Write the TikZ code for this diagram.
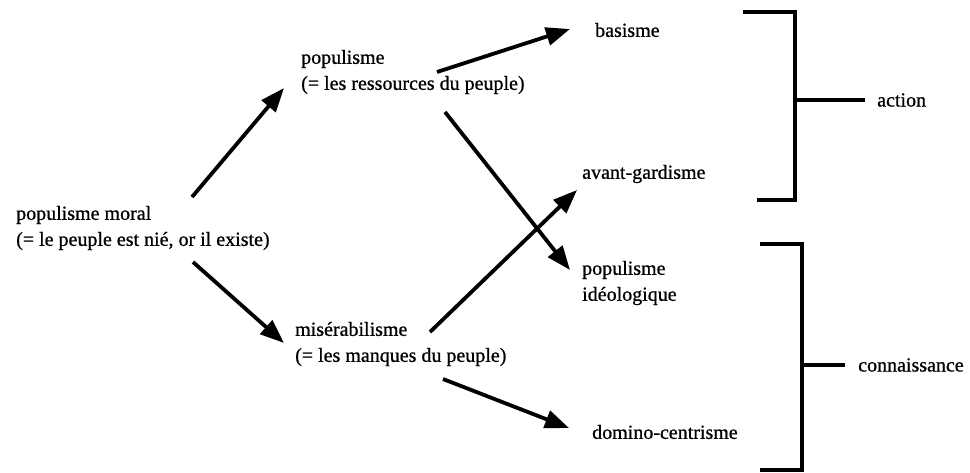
\documentclass[tikz,border=0pt]{standalone}
\usepackage{fontspec}
\setmainfont[FakeBold=0.8]{Liberation Serif}
\usetikzlibrary{arrows.meta}

\begin{document}
\begin{tikzpicture}[x=1pt, y=-1pt,
  lbl/.style={anchor=west, inner sep=0pt, align=left, font=\fontsize{20}{26}\selectfont},
  arr/.style={line width=3.8pt, -{Triangle[length=24pt, width=18pt]}},
  brk/.style={line width=3.2pt}]
\useasboundingbox (0,0) rectangle (970,472);
\node[lbl] (moral) at (16, 228){populisme moral\\(= le peuple est nié, or il existe)};
\node[lbl] (ressources) at (301, 72){populisme\\(= les ressources du peuple)};
\node[lbl] (manques) at (295, 344){misérabilisme\\(= les manques du peuple)};
\node[lbl] (basisme) at (595, 30){basisme};
\node[lbl] (avant) at (582, 174){avant-gardisme};
\node[lbl] (ideo) at (582, 283){populisme\\idéologique};
\node[lbl] (domino) at (592, 432){domino-centrisme};
\node[lbl] (action) at (877, 100){action};
\node[lbl] (conn) at (858, 365){connaissance};
\coordinate (m1) at (192, 197);
\coordinate (r1) at (284, 88);
\coordinate (m2) at (193, 262);
\coordinate (p1) at (284, 343);
\coordinate (r2) at (437, 72);
\coordinate (b1) at (570, 29);
\coordinate (r3) at (445, 112);
\coordinate (i1) at (570, 270);
\coordinate (p2) at (430, 332);
\coordinate (a1) at (577, 190);
\coordinate (p3) at (443, 379);
\coordinate (d1) at (569, 428);
\draw[arr] (m1) -- (r1);
\draw[arr] (m2) -- (p1);
\draw[arr] (r2) -- (b1);
\draw[arr] (r3) -- (i1);
\draw[arr] (p2) -- (a1);
\draw[arr] (p3) -- (d1);
\coordinate (actbr) at (795, 100);
\coordinate (connbr) at (802, 365);
\draw[brk] (743, 12) -- (795, 12) -- (795, 200) -- (757, 200);
\draw[brk, shorten >=12pt] (actbr) -- (actbr -| action.west);
\draw[brk] (760, 244) -- (802, 244) -- (802, 470) -- (760, 470);
\draw[brk, shorten >=13pt] (connbr) -- (connbr -| conn.west);
\end{tikzpicture}
\end{document}
